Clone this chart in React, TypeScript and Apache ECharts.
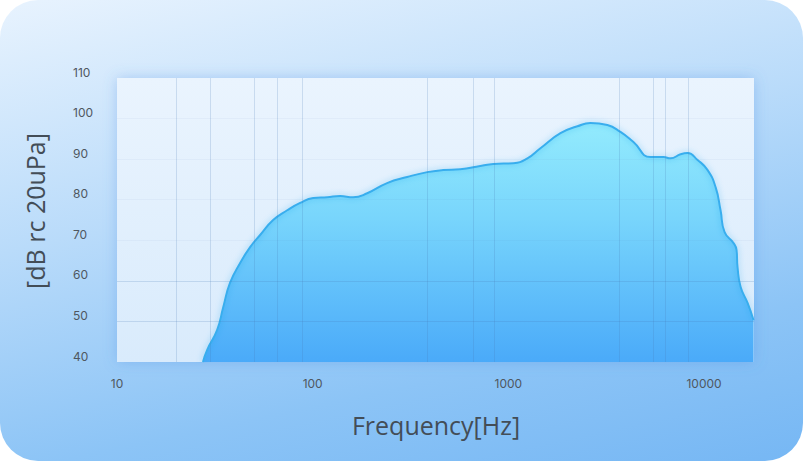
import React, { useEffect, useRef } from "react";
import * as echarts from "echarts";

const freqs = [27.5, 28.9, 32.5, 34.9, 37.8, 42.6, 47.9, 53.9, 62.8, 74.1, 86.3, 100.6, 118.6, 138, 161, 190, 240, 304, 385, 465, 568, 719, 838, 1061, 1251, 1458, 1846, 2254, 2626, 3206, 3739, 4357, 5321, 6204, 6742, 7586, 8241, 9270, 10428, 11456, 12143, 12735, 14150, 14660, 14830, 15380, 16710, 17910];
const levels = [40.0, 43.0, 47.9, 53.5, 59.5, 64.4, 68.3, 71.3, 75.0, 77.4, 79.2, 80.4, 80.6, 80.9, 80.6, 81.6, 84.1, 85.6, 86.8, 87.3, 87.5, 88.3, 88.8, 89.0, 90.2, 92.7, 96.4, 98.1, 98.9, 98.4, 96.7, 94.2, 90.5, 90.5, 90.2, 91.2, 91.5, 89.8, 87.3, 83.1, 77.4, 72.0, 69.3, 67.6, 63.4, 58.5, 54.5, 50.3];

const verticalGrid = [20, 30, 50, 66, 88, 385, 665, 845, 3700, 5500, 6300, 8300];
const strongHorizontal = [50, 60];
const faintHorizontal = [70, 80, 90, 100];

const xTitle = "Frequency[Hz]";
const yTitle = "[dB rc 20uPa]";

export default function App() {
  const ref = useRef<HTMLDivElement>(null);

  useEffect(() => {
    document.body.style.margin = "0";
    if (!ref.current) return;
    const chart = echarts.init(ref.current, undefined, { renderer: "svg" });
    const data = freqs.map((f, i) => [f, levels[i]]);

    chart.setOption({
      animation: false,
      grid: {
        left: 117,
        right: 50,
        top: 78,
        bottom: 100,
        show: true,
        borderWidth: 0,
        backgroundColor: new echarts.graphic.LinearGradient(0, 0, 0, 1, [
          { offset: 0, color: "#eaf4fe" },
          { offset: 1, color: "#d9ebfc" },
        ]),
        shadowBlur: 14,
        shadowColor: "rgba(80,140,225,0.35)",
      },
      xAxis: {
        type: "log",
        logBase: 10,
        min: 10,
        max: 18000,
        axisLine: { show: false },
        axisTick: { show: false },
        splitLine: { show: false },
        axisLabel: {
          color: "#4f5760",
          fontFamily: "Inter",
          fontSize: 12,
          margin: 15,
          showMaxLabel: false,
          formatter: (v: number) => String(Math.round(v)),
        },
      },
      yAxis: {
        type: "value",
        min: 40,
        max: 110,
        interval: 10,
        axisLine: { show: false },
        axisTick: { show: false },
        splitLine: { show: false },
        axisLabel: {
          color: "#4f5760",
          fontFamily: "Inter",
          fontSize: 12,
          align: "left",
          margin: 44,
          verticalAlign: "bottom",
        },
      },
      series: [
        {
          type: "line",
          data,
          smooth: 0.5,
          showSymbol: false,
          symbol: "none",
          lineStyle: {
            color: "#39aeee",
            width: 2,
            shadowBlur: 6,
            shadowColor: "rgba(40,150,230,0.45)",
          },
          areaStyle: {
            origin: "start",
            opacity: 1,
            color: new echarts.graphic.LinearGradient(0, 0, 0, 1, [
              { offset: 0, color: "#93ebfd" },
              { offset: 0.4, color: "#78d5fc" },
              { offset: 1, color: "#4aaaf9" },
            ]),
          },
          markLine: {
            silent: true,
            symbol: "none",
            animation: false,
            label: { show: false },
            lineStyle: { color: "rgba(70,120,180,0.2)", width: 1, type: "solid" },
            data: [
              ...verticalGrid.map((v) => ({ xAxis: v })),
              ...strongHorizontal.map((v) => ({
                yAxis: v,
                lineStyle: { color: "rgba(70,120,180,0.2)", width: 1, type: "solid" },
              })),
              ...faintHorizontal.map((v) => ({
                yAxis: v,
                lineStyle: { color: "rgba(70,120,180,0.05)", width: 1, type: "solid" },
              })),
            ],
          },
        },
      ],
      graphic: [
        {
          type: "text",
          x: 436,
          y: 425,
          style: {
            text: xTitle,
            fontFamily: "Open Sans",
            fontSize: 25,
            fill: "#434d57",
            align: "center",
            verticalAlign: "middle",
          },
        },
        {
          type: "text",
          x: 35,
          y: 211,
          rotation: Math.PI / 2,
          style: {
            text: yTitle,
            fontFamily: "Open Sans",
            fontSize: 25,
            fill: "#434d57",
            align: "center",
            verticalAlign: "middle",
          },
        },
      ],
    });

    return () => chart.dispose();
  }, []);

  return (
    <div style={{ position: "fixed", left: 0, top: 0, width: 804, height: 462, background: "#ffffff" }}>
      <div
        style={{
          position: "absolute",
          left: 0,
          top: 0,
          width: 803,
          height: 461,
          borderRadius: 38,
          background: "linear-gradient(168deg, #e8f3fe 0%, #b9dbfa 40%, #8cc4f6 75%, #76b7f4 100%)",
        }}
      />
      <div ref={ref} style={{ position: "absolute", left: 0, top: 0, width: 804, height: 462 }} />
    </div>
  );
}
